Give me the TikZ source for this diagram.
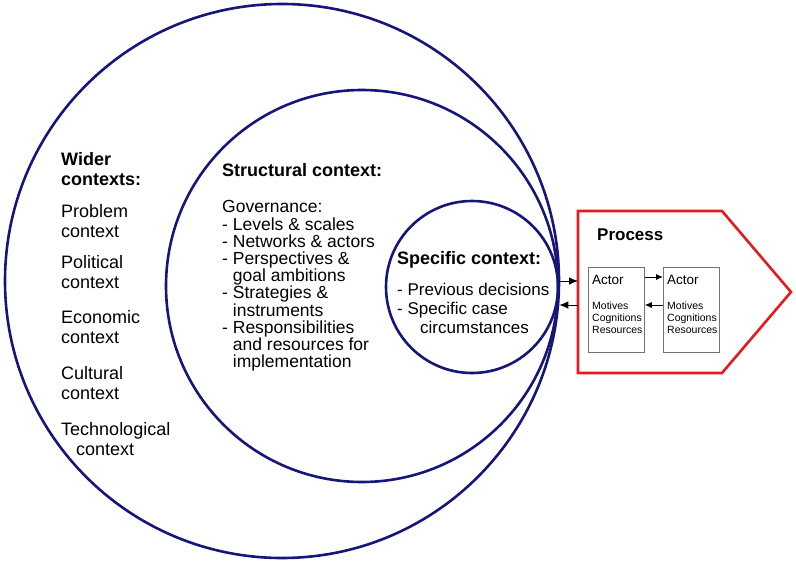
\documentclass[tikz,border=0pt]{standalone}
\usepackage{fontspec}
\setmainfont{Liberation Sans}
\usetikzlibrary{arrows.meta}
\definecolor{ringblue}{RGB}{22,22,122}
\definecolor{procred}{RGB}{228,26,30}
\definecolor{boxgrey}{RGB}{115,115,115}

\begin{document}
\begin{tikzpicture}[line join=miter, x={(1pt,0)}, y={(0,-1pt)},
  ring/.style={circle, draw=ringblue, line width=2.6pt, inner sep=0pt},
  txt/.style={anchor=west, align=left, inner sep=0pt, font=\fontsize{18}{20}\selectfont},
  head/.style={txt, font=\fontsize{18}{20}\selectfont\bfseries},
  actorbox/.style={draw=boxgrey, line width=0.8pt, minimum width=56pt, minimum height=85pt, anchor=north west, inner sep=0pt},
  link/.style={arrows=-{Latex[length=7pt,width=6pt]}, line width=0.8pt},
  biglink/.style={link, arrows=-{Latex[length=9pt,width=7.5pt]}}]
  \useasboundingbox (0,0) rectangle (796,562);
  % the three context rings, all touching at the right
  \node[ring, minimum size=554pt] (wider) at (282,281) {};
  \node[ring, minimum size=392pt] (structural) at (362,286) {};
  \node[ring, minimum size=172pt] (specific) at (472,287) {};

  \node[head] (widerhead) at (61,169) {Wider\\contexts:};
  \node[txt] (problem) at (61,221) {Problem\\context};
  \node[txt] (political) at (61,272.5) {Political\\context};
  \node[txt] (economic) at (61,327.5) {Economic\\context};
  \node[txt] (cultural) at (61,383.5) {Cultural\\context};
  \node[txt] (technological) at (61,439.5) {Technological\\\hspace*{15pt}context};

  \node[head] (structhead) at (222,170) {Structural context:};
  \node[txt, font=\fontsize{17.5}{17.2}\selectfont] (governance) at (222,286)
    {Governance:\\- Levels \& scales\\- Networks \& actors\\- Perspectives \&\\\hphantom{- }goal ambitions\\- Strategies \&\\\hphantom{- }instruments\\- Responsibilities\\\hphantom{- }and resources for\\\hphantom{- }implementation};

  \node[head] (spechead) at (397,260) {Specific context:};
  \node[txt, font=\fontsize{17}{19}\selectfont] (speclist) at (397,308)
    {- Previous decisions\\- Specific case\\\hspace*{23pt}circumstances};

  % process block
  \path[draw=procred, line width=2.6pt] (578,211) -- (722,211) -- (791,292) -- (722,373) -- (578,373) -- cycle;
  \coordinate (procin) at (578,281);
  \coordinate (procout) at (578,305);
  \node[head, font=\fontsize{17}{20}\selectfont\bfseries] (process) at (597,235) {Process};

  \node[actorbox] (actA) at (588,267) {};
  \node[actorbox] (actB) at (663,267) {};
  \foreach \a in {actA,actB} {
    \node[anchor=west, inner sep=0pt, font=\fontsize{13.5}{14}\selectfont] (\a title) at ([xshift=4pt,yshift=-13pt]\a.north west) {Actor};
    \node[anchor=west, align=left, inner sep=0pt, font=\fontsize{10.5}{12}\selectfont] (\a list) at ([xshift=4pt,yshift=-51pt]\a.north west) {Motives\\Cognitions\\Resources};
  }

  \draw[biglink] ([yshift=6pt]specific.east) -- (procin);
  \draw[biglink] (procout) -- ([yshift=-18pt]specific.east);
  \draw[link] ([yshift=-10pt]actA.north east) -- ([yshift=-10pt]actB.north west);
  \draw[link] ([yshift=-38pt]actB.north west) -- ([yshift=-38pt]actA.north east);
\end{tikzpicture}
\end{document}
